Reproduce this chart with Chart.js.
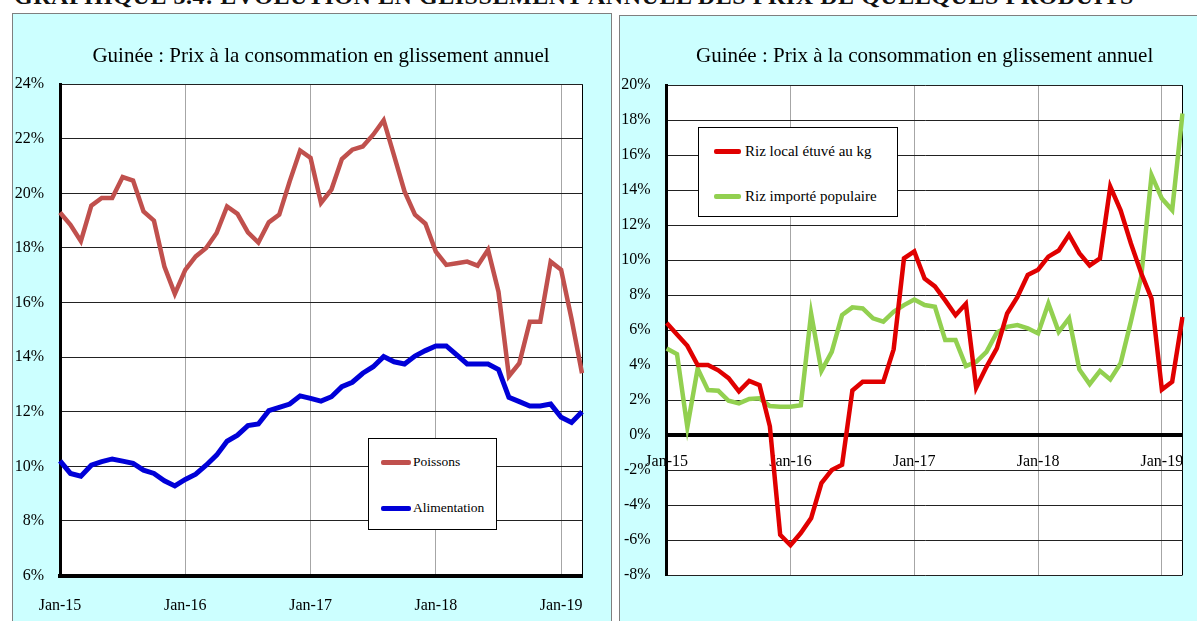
<!DOCTYPE html>
<html>
<head>
<meta charset="utf-8">
<script src="https://cdn.jsdelivr.net/npm/chart.js@4.4.1/dist/chart.umd.min.js"></script>
<style>
  body { margin: 0; width: 1197px; height: 621px; overflow: hidden; background: #fff; position: relative; font-family: 'Liberation Serif', serif; }
  .heading { position: absolute; left: 14px; top: -17px; font-size: 24px; font-weight: bold; white-space: nowrap; letter-spacing: 0.55px; color: #111; }
  .panel { position: absolute; background: #ccffff; border: 1px solid #7f7f7f; box-sizing: border-box; }
  canvas { position: absolute; }
  .legend { position: absolute; background: #fff; border: 1px solid #000; box-sizing: border-box; }
  .legend div { position: absolute; white-space: nowrap; color: #000; }
  .legend span { position: absolute; display: block; }
</style>
</head>
<body>
<div class="heading">GRAPHIQUE 3.4: EVOLUTION EN GLISSEMENT ANNUEL DES PRIX DE QUELQUES PRODUITS</div>
<div class="panel" style="left:12px; top:13px; width:600px; height:620px;"></div>
<div class="panel" style="left:619px; top:15px; width:590px; height:620px;"></div>
<canvas id="left" width="608" height="608" style="left:12px; top:13px;"></canvas>
<canvas id="right" width="604" height="606" style="left:619px; top:15px;"></canvas>
<div id="legLeft" class="legend" style="left:368px; top:438px; width:129px; height:92px;"></div>
<div id="legRight" class="legend" style="left:698px; top:127px; width:200px; height:90px;"></div>
<script>
// Months Jan-15 .. Mar-19
const monthNames = ['Jan', 'Feb', 'Mar', 'Apr', 'May', 'Jun', 'Jul', 'Aug', 'Sep', 'Oct', 'Nov', 'Dec'];
const years = ['15', '16', '17', '18', '19'];
const labels = [];
years.forEach(y => monthNames.forEach(m => labels.push(m + '-' + y)));
labels.length = 51;

// Left chart: Poissons vs Alimentation (%)
const poissons = [19.3, 18.85, 18.25, 19.55, 19.83, 19.83, 20.6, 20.47, 19.34, 19.0,
  17.32, 16.32, 17.2, 17.69, 18.0, 18.55, 19.52, 19.25, 18.57, 18.2,
  18.94, 19.22, 20.44, 21.57, 21.3, 19.65, 20.14, 21.26, 21.6, 21.72,
  22.15, 22.68, 21.38, 20.07, 19.22, 18.89, 17.87, 17.38, 17.44, 17.5,
  17.35, 17.93, 16.4, 13.3, 13.78, 15.3, 15.3, 17.5, 17.2, 15.4, 13.41];
const alimentation = [10.2, 9.74, 9.64, 10.04, 10.17, 10.27, 10.19, 10.11, 9.86, 9.74,
  9.47, 9.28, 9.52, 9.71, 10.04, 10.41, 10.92, 11.14, 11.49, 11.55,
  12.04, 12.16, 12.28, 12.58, 12.49, 12.39, 12.55, 12.92, 13.08, 13.41,
  13.65, 14.02, 13.83, 13.75, 14.04, 14.24, 14.41, 14.41, 14.08, 13.75,
  13.75, 13.75, 13.55, 12.53, 12.37, 12.21, 12.21, 12.28, 11.8, 11.61, 12.0];

// Right chart: riz local vs riz importé (%)
const rizLocal = [6.4, 5.75, 5.1, 4.0, 4.0, 3.7, 3.25, 2.5, 3.1, 2.85,
  0.5, -5.7, -6.3, -5.6, -4.75, -2.75, -2.0, -1.7, 2.55, 3.05,
  3.05, 3.05, 4.9, 10.1, 10.5, 8.95, 8.5, 7.7, 6.85, 7.5,
  2.7, 3.9, 4.95, 6.95, 7.9, 9.15, 9.45, 10.2, 10.55, 11.45,
  10.4, 9.7, 10.1, 14.2, 12.85, 10.95, 9.25, 7.8, 2.6, 3.05, 6.75];
const rizImporte = [4.95, 4.63, 0.45, 3.8, 2.57, 2.53, 1.96, 1.81, 2.06, 2.1,
  1.66, 1.62, 1.62, 1.7, 6.95, 3.67, 4.76, 6.86, 7.3, 7.24,
  6.67, 6.48, 7.05, 7.43, 7.75, 7.43, 7.33, 5.43, 5.43, 3.94,
  4.19, 4.76, 5.85, 6.19, 6.29, 6.1, 5.81, 7.52, 5.9, 6.67,
  3.75, 2.91, 3.67, 3.18, 4.1, 6.5, 9.05, 14.86, 13.52, 12.86, 18.38];

const title = 'Guinée : Prix à la consommation en glissement annuel';
const serif = 'Liberation Serif';

Chart.defaults.font.family = serif;
Chart.defaults.color = '#000';

// white plot area on the cyan panel
const plotBg = {
  id: 'plotBg',
  beforeDraw(chart) {
    const { ctx, chartArea: a } = chart;
    ctx.save();
    ctx.fillStyle = '#fff';
    ctx.fillRect(a.left, a.top, a.right - a.left, a.bottom - a.top);
    ctx.restore();
  }
};

const isJan = i => labels[i] && labels[i].startsWith('Jan');

function xScale(extra, pad) {
  return Object.assign({
    type: 'category',
    offset: false,
    grid: {
      drawTicks: false,
      lineWidth: 1,
      color: ctx => ctx.index === labels.length - 1 ? '#000' : (isJan(ctx.index) && ctx.index > 0 ? '#a6a6a6' : 'transparent')
    },
    border: { display: true, color: '#000', width: 4 },
    ticks: {
      autoSkip: false,
      maxRotation: 0,
      padding: pad,
      font: { family: serif, size: 16 },
      callback: (v, i) => isJan(i) ? labels[i] : ''
    },
    afterFit: s => { s.height = 37; }
  }, extra);
}

function yScale(min, max, w) {
  return {
    min: min, max: max,
    grid: { drawTicks: false, color: '#222', lineWidth: 1 },
    border: { display: true, color: '#000', width: 3 },
    ticks: { stepSize: 2, padding: 16, font: { family: serif, size: 16 }, callback: v => v + '%' },
    afterFit: s => { s.width = w; }
  };
}

function line(label, data, color, width) {
  return { label, data, borderColor: color, backgroundColor: color, borderWidth: width, pointRadius: 0, tension: 0 };
}

function titleOpts(top, bottom) {
  return { display: true, fullSize: false, text: title, font: { family: serif, size: 21, weight: 'normal' }, padding: { top: top, bottom: bottom } };
}

const left = new Chart(document.getElementById('left'), {
  type: 'line',
  data: {
    labels: labels,
    datasets: [
      line('Poissons', poissons, '#c0504d', 4.5),
      line('Alimentation', alimentation, '#0000d8', 5)
    ]
  },
  options: {
    responsive: false,
    animation: false,
    layout: { padding: { left: 0, right: 38, top: 0, bottom: 8.5 } },
    plugins: { legend: { display: false }, tooltip: { enabled: false }, title: titleOpts(31, 15) },
    scales: { x: xScale({}, 20.5), y: yScale(6, 24, 48) }
  },
  plugins: [plotBg]
});

const right = new Chart(document.getElementById('right'), {
  type: 'line',
  data: {
    labels: labels,
    datasets: [
      line('Riz local étuvé au kg', rizLocal, '#e00000', 4.5),
      line('Riz importé populaire', rizImporte, '#92d050', 4.5)
    ]
  },
  options: {
    responsive: false,
    animation: false,
    layout: { padding: { left: 0, right: 40.5, top: 0, bottom: 46 } },
    plugins: { legend: { display: false }, tooltip: { enabled: false }, title: titleOpts(29, 16) },
    scales: { x: xScale({ position: { y: 0 } }, 17), y: yScale(-8, 20, 47.7) }
  },
  plugins: [plotBg]
});

// HTML legends built from the datasets
function buildLegend(id, chart, rows, sample, textX, fontSize) {
  const el = document.getElementById(id);
  chart.data.datasets.forEach((ds, i) => {
    const s = document.createElement('span');
    s.style.cssText = `left:${sample[0]}px; width:${sample[1]}px; top:${rows[i] - 2}px; height:5px; border-radius:2px; background:${ds.borderColor};`;
    el.appendChild(s);
    const t = document.createElement('div');
    t.textContent = ds.label;
    t.style.cssText = `left:${textX}px; top:${rows[i] - fontSize * 0.6}px; font-size:${fontSize}px; line-height:1.2;`;
    el.appendChild(t);
  });
}
buildLegend('legLeft', left, [23, 69], [12, 30], 44, 13.5);
buildLegend('legRight', right, [23, 68], [15, 27], 46, 15);
</script>
</body>
</html>
